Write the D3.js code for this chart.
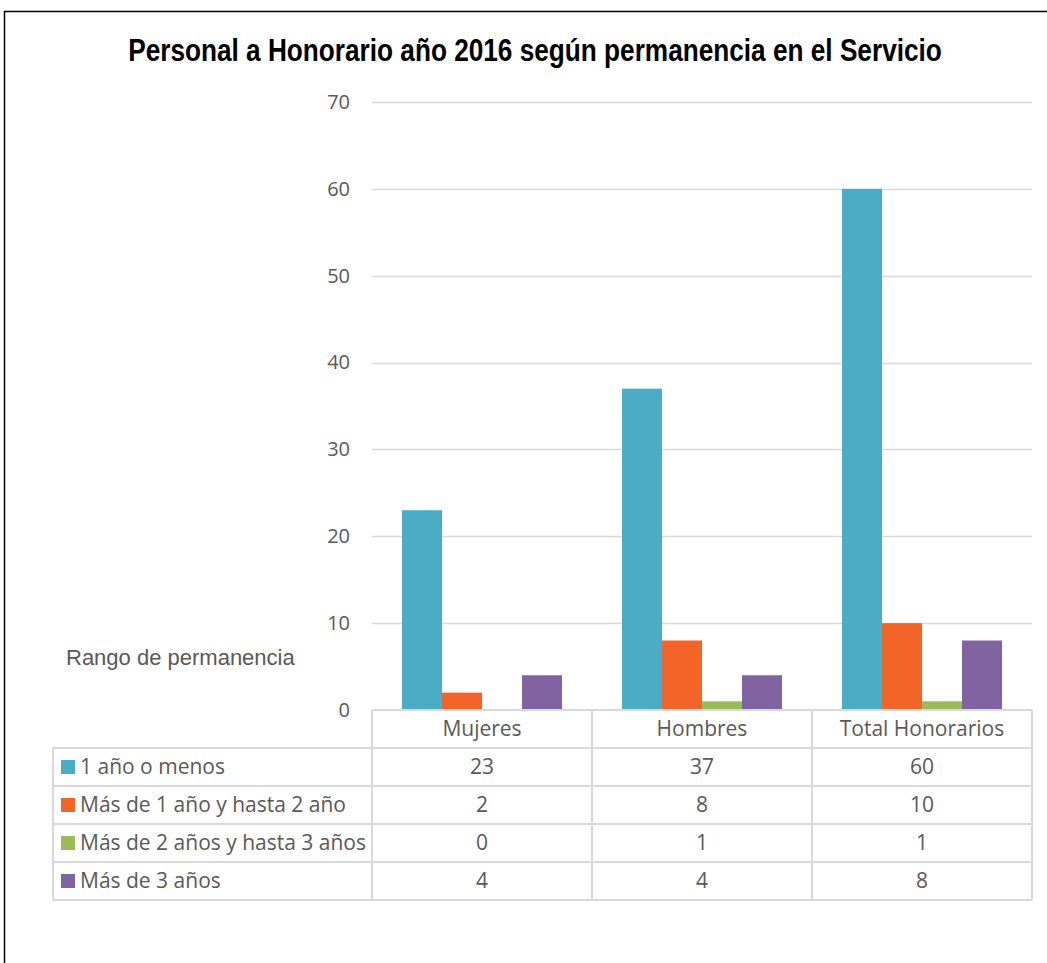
<!DOCTYPE html>
<html>
<head>
<meta charset="utf-8">
<script src="https://cdn.jsdelivr.net/npm/d3@7"></script>
<style>
  body { margin: 0; background: #fff; }
  svg { display: block; }
</style>
</head>
<body>
<script>
// categories and series
const categories = ["Mujeres", "Hombres", "Total Honorarios"];
const seriesNames = ["1 año o menos", "Más de 1 año y hasta 2 año", "Más de 2 años y hasta 3 años", "Más de 3 años"];
const unAnoOMenos = [23, 37, 60];
const entre1y2 = [2, 8, 10];
const entre2y3 = [0, 1, 1];
const masDe3 = [4, 4, 8];
const yTicks = [0, 10, 20, 30, 40, 50, 60, 70];

const seriesValues = [unAnoOMenos, entre1y2, entre2y3, masDe3];
const colors = ["#4BACC6", "#F26428", "#9BBB59", "#8064A2"];

const W = 1047, H = 963;
const plot = {left: 372, right: 1032, top: 102, bottom: 710};
const rowH = 38;
const tableLeft = 53;
const textColor = "#595959";
const lineColor = "#d9d9d9";
const bodyFont = "'Open Sans', Calibri, sans-serif";

const svg = d3.select("body")
    .append("svg")
    .attr("width", W)
    .attr("height", H);

svg.append("rect").attr("width", W).attr("height", H).attr("fill", "#fff");

// outer frame (right and bottom edges fall outside the picture)
svg.append("path")
    .attr("d", `M4.5,${H} V11.5 H${W + 5}`)
    .attr("fill", "none")
    .attr("stroke", "#000")
    .attr("stroke-width", 1.5);

// title - no narrow face installed, so squeeze a bold one horizontally
const titleG = svg.append("g");
const title = titleG.append("text")
    .attr("x", 0)
    .attr("y", 0)
    .attr("text-anchor", "middle")
    .style("font-family", "'Liberation Sans Narrow', 'Arial Narrow', 'Liberation Sans', Arial, sans-serif")
    .style("font-weight", "bold")
    .style("font-size", "31px")
    .attr("fill", "#000")
    .text("Personal a Honorario año 2016 según permanencia en el Servicio");
const titleW = title.node().getComputedTextLength();
const sx = Math.min(1, 814 / titleW);
titleG.attr("transform", `translate(535,61) scale(${sx},1)`);

// scales
const x0 = d3.scaleBand()
    .domain(categories)
    .range([plot.left, plot.right])
    .paddingInner(0)
    .paddingOuter(0);

const x1 = d3.scaleBand()
    .domain(d3.range(seriesNames.length))
    .range([0, x0.bandwidth()])
    .paddingInner(0)
    .paddingOuter(0.75);

const y = d3.scaleLinear()
    .domain([0, 70])
    .range([plot.bottom, plot.top]);

// gridlines
svg.append("g")
    .selectAll("line")
    .data(yTicks.filter(d => d > 0))
    .enter()
    .append("line")
    .attr("x1", plot.left)
    .attr("x2", plot.right)
    .attr("y1", d => Math.round(y(d)) + 0.5)
    .attr("y2", d => Math.round(y(d)) + 0.5)
    .attr("stroke", lineColor)
    .attr("stroke-width", 1.5);

// y axis labels
const yAxis = svg.append("g")
    .attr("transform", `translate(${plot.left - 22},0)`)
    .call(d3.axisLeft(y).tickValues(yTicks).tickSize(0).tickPadding(0));
yAxis.select(".domain").remove();
yAxis.selectAll("text")
    .style("font-family", bodyFont)
    .style("font-size", "20px")
    .attr("fill", textColor);

// bars
const groups = svg.append("g")
    .selectAll("g")
    .data(categories)
    .enter()
    .append("g")
    .attr("transform", d => `translate(${x0(d)},0)`);

groups.selectAll("rect")
    .data((d, i) => seriesValues.map((vals, s) => ({s: s, v: vals[i]})))
    .enter()
    .append("rect")
    .attr("x", d => x1(d.s))
    .attr("width", x1.bandwidth())
    .attr("y", d => y(d.v))
    .attr("height", d => y(0) - y(d.v))
    .attr("fill", d => colors[d.s]);

// "Rango de permanencia" label
svg.append("text")
    .attr("x", 66)
    .attr("y", 665)
    .style("font-family", "'Liberation Sans', Arial, sans-serif")
    .style("font-size", "22px")
    .attr("fill", textColor)
    .text("Rango de permanencia");

// data table
const table = svg.append("g");
const tableTop = plot.bottom;
const tableBottom = tableTop + rowH * (seriesNames.length + 1);

function hline(x1v, x2v, yv) {
    table.append("line")
        .attr("x1", x1v).attr("x2", x2v)
        .attr("y1", yv).attr("y2", yv)
        .attr("stroke", lineColor).attr("stroke-width", 2);
}
function vline(xv, y1v, y2v) {
    table.append("line")
        .attr("x1", xv).attr("x2", xv)
        .attr("y1", y1v).attr("y2", y2v)
        .attr("stroke", lineColor).attr("stroke-width", 2);
}

// header row spans only the plot width
hline(plot.left, plot.right, tableTop);
d3.range(seriesNames.length + 1).forEach(i => {
    hline(tableLeft, plot.right, tableTop + rowH * (i + 1));
});
vline(tableLeft, tableTop + rowH, tableBottom);
vline(plot.left, tableTop, tableBottom);
categories.forEach(c => vline(x0(c) + x0.bandwidth(), tableTop, tableBottom));

// category header text
table.selectAll(".cat")
    .data(categories)
    .enter()
    .append("text")
    .attr("class", "cat")
    .attr("x", d => x0(d) + x0.bandwidth() / 2)
    .attr("y", tableTop + rowH / 2 + 7)
    .attr("text-anchor", "middle")
    .style("font-family", bodyFont)
    .style("font-size", "21px")
    .attr("fill", textColor)
    .text(d => d);

// series rows
seriesNames.forEach((name, s) => {
    const rowY = tableTop + rowH * (s + 1);
    table.append("rect")
        .attr("x", 61)
        .attr("y", rowY + rowH / 2 - 7)
        .attr("width", 14)
        .attr("height", 14)
        .attr("fill", colors[s]);
    table.append("text")
        .attr("x", 80)
        .attr("y", rowY + rowH / 2 + 7)
        .style("font-family", bodyFont)
        .style("font-size", "21px")
        .attr("fill", textColor)
        .text(name);
    categories.forEach((c, i) => {
        table.append("text")
            .attr("x", x0(c) + x0.bandwidth() / 2)
            .attr("y", rowY + rowH / 2 + 7)
            .attr("text-anchor", "middle")
            .style("font-family", bodyFont)
            .style("font-size", "21px")
            .attr("fill", textColor)
            .text(seriesValues[s][i]);
    });
});
</script>
</body>
</html>
